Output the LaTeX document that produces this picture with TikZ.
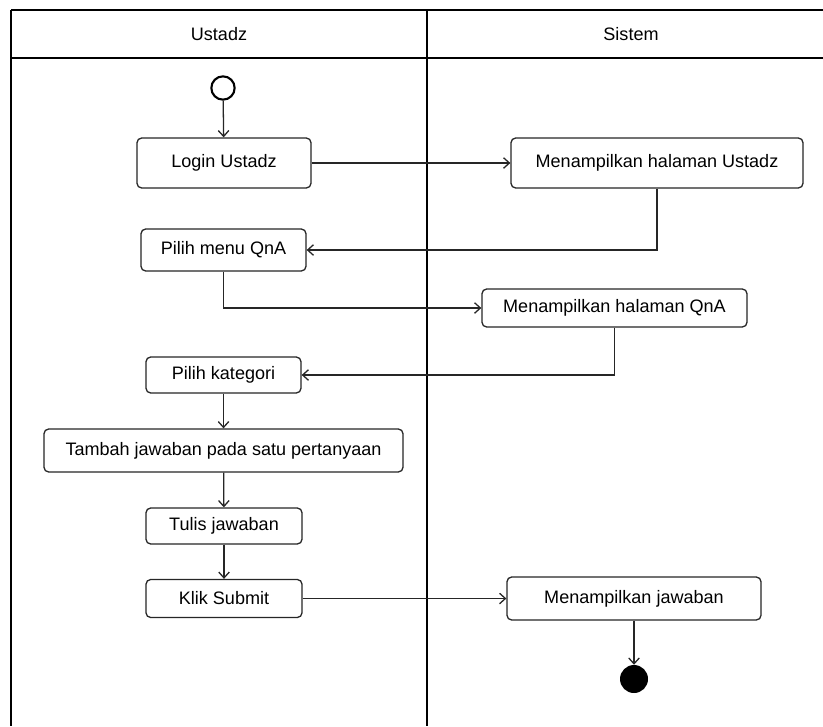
\documentclass[tikz,border=0pt]{standalone}
\usepackage{fontspec}
\setmainfont{Liberation Sans}
\usetikzlibrary{arrows.meta}

\tikzset{
    activity/.style={draw=black!85, line width=1.1pt, rounded corners=4pt, fill=white,
        inner sep=0pt, align=center, text=black},
    flow/.style={-{Straight Barb[length=5pt,width=9pt]}, line width=1.1pt, black!85},
    lane/.style={line width=1.5pt, black}
}

\begin{document}
\begin{tikzpicture}[x=0.03cm, y=-0.03cm, font=\fontsize{15.4}{18}\selectfont]
    \useasboundingbox (0,0) rectangle (823,726);

    % Swimlane frame (cut off at the right and bottom)
    \coordinate (FrameTopLeft) at (11, 10);
    \coordinate (HeaderLeft) at (11, 58);
    \coordinate (LaneSplitTop) at (427, 10);
    \draw[lane] (FrameTopLeft) -- (823, 10);
    \draw[lane] (HeaderLeft) -- (823, 58);
    \draw[lane] (FrameTopLeft) -- (11, 726);
    \draw[lane] (LaneSplitTop) -- (427, 726);

    % Lane titles
    \node[text=black] (UstadzLane) at (219, 34) {Ustadz};
    \node[text=black] (SistemLane) at (631, 34) {Sistem};

    % Start and end
    \node[circle, draw=black, line width=1.8pt, fill=white, minimum size=0.7cm, inner sep=0pt] (Start) at (223, 88) {};
    \node[circle, fill=black, minimum size=0.84cm, inner sep=0pt] (End) at (634, 679) {};

    % Ustadz lane
    \node[activity, minimum width=5.22cm, minimum height=1.5cm] (LoginUstadz) at (224, 163) {Login Ustadz};
    \node[activity, minimum width=4.95cm, minimum height=1.26cm] (PilihMenu) at (223.5, 250) {Pilih menu QnA};
    \node[activity, minimum width=4.65cm, minimum height=1.08cm] (PilihKategori) at (223.5, 375) {Pilih kategori};
    \node[activity, minimum width=10.77cm, minimum height=1.29cm] (TambahJawaban) at (223.5, 450.5) {Tambah jawaban pada satu pertanyaan};
    \node[activity, minimum width=4.68cm, minimum height=1.08cm] (TulisJawaban) at (224, 526) {Tulis jawaban};
    \node[activity, minimum width=4.68cm, minimum height=1.14cm] (KlikSubmit) at (224, 598.5) {Klik Submit};

    % Sistem lane
    \node[activity, minimum width=8.76cm, minimum height=1.5cm] (HalamanUstadz) at (657, 163) {Menampilkan halaman Ustadz};
    \node[activity, minimum width=7.95cm, minimum height=1.14cm] (HalamanQnA) at (614.5, 308) {Menampilkan halaman QnA};
    \node[activity, minimum width=7.62cm, minimum height=1.29cm] (TampilJawaban) at (634, 598.5) {Menampilkan jawaban};

    % Control flow
    \draw[flow] (Start) -- (LoginUstadz);
    \draw[flow] (LoginUstadz) -- (HalamanUstadz);
    \draw[flow] (HalamanUstadz.south) |- (PilihMenu.east);
    \draw[flow] (PilihMenu.south) |- (HalamanQnA.west);
    \draw[flow] (HalamanQnA.south) |- (PilihKategori.east);
    \draw[flow] (PilihKategori) -- (TambahJawaban);
    \draw[flow] (TambahJawaban) -- (TulisJawaban);
    \draw[flow] (TulisJawaban) -- (KlikSubmit);
    \draw[flow] (KlikSubmit) -- (TampilJawaban);
    \draw[flow] (TampilJawaban) -- (End);

\end{tikzpicture}
\end{document}
